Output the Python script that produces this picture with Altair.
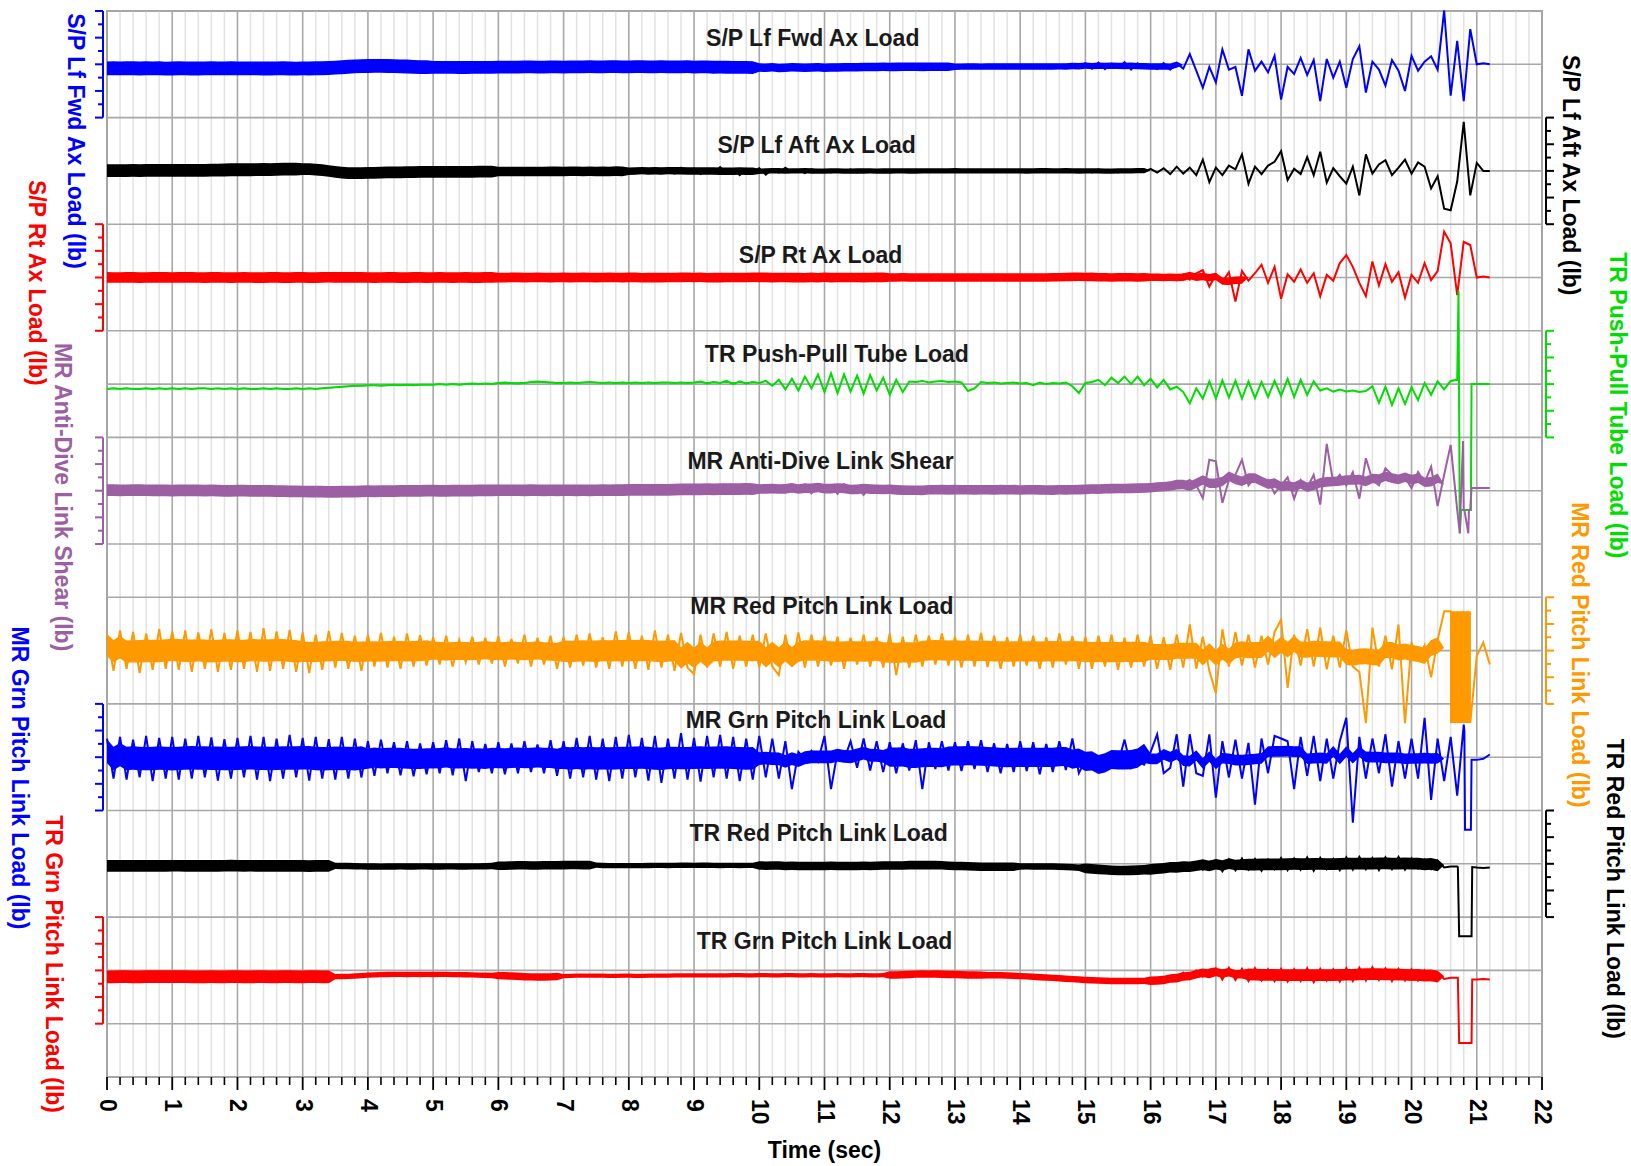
import altair as alt
import pandas as pd

# ---------------- data (values in hundredths of one grid division) ----------------
series_names = ["S/P Lf Fwd Ax Load", "S/P Lf Aft Ax Load", "S/P Rt Ax Load",
                "TR Push-Pull Tube Load", "MR Anti-Dive Link Shear",
                "MR Red Pitch Link Load", "MR Grn Pitch Link Load",
                "TR Red Pitch Link Load", "TR Grn Pitch Link Load"]
axis_titles = [n + " (lb)" for n in series_names]
colors = ["#0000FF", "#000000", "#FF0000", "#00DD00", "#9C5FA3",
          "#FF9900", "#0000FF", "#000000", "#FF0000"]
line_widths = [2.0, 2.0, 2.0, 2.6, 2.0, 2.0, 2.0, 2.0, 2.0]
baselines = [19, 17, 15, 13, 11, 8, 6, 4, 2]
sides = ["left", "right", "left", "right", "left", "right", "left", "right", "left"]

time_step = 0.1
n_samples = 213

lf_fwd = [
    -8, -6, -9, -7, -8, -6, -9, -8, -7, -8,
    -7, -9, -8, -6, -8, -9, -7, -8, -6, -8,
    -8, -7, -9, -8, -6, -8, -9, -7, -8, -7,
    -8, -9, -7, -8, -6, -7, -5, -4, -3, -3,
    -2, -3, -4, -2, -3, -5, -4, -6, -5, -6,
    -6, -5, -7, -6, -5, -6, -7, -5, -6, -6,
    -5, -6, -4, -5, -6, -5, -4, -6, -5, -5,
    -5, -4, -6, -5, -4, -5, -3, -6, -5, -4,
    -4, -6, -3, -5, -4, -7, -3, -5, -6, -4,
    -5, -3, -8, -2, -6, -9, -3, -5, -10, -2,
    -6, -12, -2, -8, -4, -10, -3, -7, -5, -9,
    -3, -6, -8, -4, -5, -7, -3, -6, -5, -4,
    -5, -4, -6, -5, -3, -5, -4, -6, -5, -4,
    -4, -5, -3, -5, -4, -4, -5, -3, -4, -5,
    -4, -3, -5, -4, -3, -5, -4, -3, -4, -5,
    2, -8, 3, -9, 1, -7, 4, -10, 2, -6,
    -3, -9, 2, -10, 2, -8, 19, -12, -44, -5,
    -34, 28, -10, -5, -59, 28, -12, 5, -15, 16,
    -66, -5, -18, 12, -20, 8, -69, 10, -25, 5,
    -44, 10, 34, -53, 5, -10, -40, 8, -12, -50,
    16, -12, 5, 15, -10, 101, -59, 44, -69, 66,
    0, 2, 0]

lf_aft = [
    0, 1, 0, 1, 0, 2, 1, 0, 1, 2,
    1, 0, 1, 2, 1, 0, 2, 1, 3, 2,
    2, 3, 2, 1, 3, 4, 3, 2, 4, 3,
    5, 4, 3, 1, -1, -3, -5, -6, -5, -4,
    -3, -2, -3, -4, -3, -2, -3, -2, -1, -2,
    -2, -1, -2, -3, -2, -1, -2, -1, -2, -1,
    -1, -2, 0, -1, -2, 0, -1, -2, -1, 0,
    -1, 0, -2, 0, -1, -2, 1, -3, 0, -1,
    2, -4, 3, -2, 5, -4, 3, -5, 6, -3,
    4, -6, 2, -4, 7, -5, 3, -8, 4, -2,
    5, -7, 3, -3, 6, -2, 1, -4, 3, -1,
    2, -3, 1, -2, 3, -3, 2, -2, 1, -1,
    1, -2, 2, -1, 1, -2, 1, -1, 2, -1,
    1, -1, 2, -2, 1, -1, 2, -1, 1, -2,
    2, -1, 1, -2, 3, -1, 2, -2, 1, -1,
    2, -3, 3, -2, 1, -3, 2, -1, 3, -2,
    4, -3, 5, -6, 8, -5, 6, -8, 21, -21,
    6, -8, 10, 3, 31, -24, 8, -6, 10, 17,
    37, -17, 4, -6, 26, -8, 36, -22, 5, -10,
    -24, 8, -46, 31, -5, 12, 20, -8, 6, 21,
    -5, 16, 8, -33, -10, -71, -74, -20, 92, -46,
    15, 0, 0]

rt_ax = [
    0, 1, 0, -1, 0, 1, 0, -1, 1, 0,
    0, 1, -1, 0, 1, 0, -1, 0, 1, 0,
    0, -1, 0, 1, 0, -1, 0, 1, 0, -1,
    0, 1, 0, -1, 0, 2, 1, 0, -1, 0,
    0, 1, 0, -1, 0, 1, 0, -1, 0, 1,
    0, -1, 1, 0, -1, 0, 1, 0, -1, 0,
    1, 0, -1, 0, 1, 0, -1, 1, 0, -1,
    0, 1, 0, -1, 1, 0, -1, 0, 1, 0,
    0, -1, 1, 0, -2, 1, 0, -1, 2, 0,
    -1, 2, -2, 1, -3, 2, -1, 3, -2, 1,
    -3, 4, -2, 3, -4, 2, -3, 3, -2, 1,
    0, -1, 1, 0, -1, 1, 0, -1, 0, 1,
    0, 1, -1, 0, 1, 0, -1, 1, 0, -1,
    0, 1, 0, -1, 1, 0, -1, 0, 1, 0,
    -1, 0, 1, 0, -1, 1, 0, 2, 1, 3,
    0, 2, -2, 3, -2, 2, -3, 4, -2, 3,
    -3, 5, -4, 3, -5, 6, -4, 8, 14, -17,
    5, -8, 10, -45, 12, -6, 8, 24, -10, 20,
    -40, 6, -8, 15, -10, 8, -35, 5, -6, 27,
    42, 20, -10, -35, 30, -15, 25, -8, 10, -38,
    5, -10, 27, -5, 12, 86, 64, -33, 67, 61,
    0, 2, 0]

tr_pp = [
    -9, -8, -9, -8, -9, -9, -8, -9, -8, -9,
    -8, -9, -8, -9, -8, -8, -9, -8, -9, -8,
    -9, -8, -9, -9, -8, -9, -8, -9, -9, -8,
    -9, -8, -9, -8, -7, -6, -5, -4, -3, -3,
    -2, -2, -3, -2, -1, -2, -1, -2, -1, -1,
    -1, 0, -1, 0, -1, 0, 1, 0, 1, 0,
    2, 3, 2, 1, 2, 4, 5, 4, 3, 2,
    2, 3, 2, 3, 4, 3, 2, 3, 2, 3,
    2, 3, 2, 3, 2, 3, 3, 2, 3, 2,
    3, 5, 1, 4, 2, 6, 0, 5, 1, 4,
    2, 6, -3, 8, -10, 10, -12, 14, -8, 18,
    -15, 20, -17, 18, -14, 16, -18, 17, -12, 12,
    -20, 8, -15, 5, 4, 6, 3, 5, 6, 4,
    5, 3, -13, -8, 4, 2, 3, 1, 2, 3,
    1, 2, -2, 3, 0, 2, 1, 3, -4, -17,
    2, 4, 8, -2, 12, 2, 14, 0, 14, -2,
    10, -6, 8, -10, -5, -15, -36, -8, -27, 5,
    -27, 7, -25, 6, -27, 5, -26, 4, -24, 6,
    -22, 10, -24, 8, -20, 5, -12, -8, -14, -10,
    -14, -12, -15, -13, -4, -35, -5, -39, -8, -37,
    -6, -30, 2, -20, 5, -10, 6, 8, -236, -236,
    0, 0, 0]

mr_ad = [
    1, 0, 2, 1, 0, 1, 2, 0, 1, 0,
    0, 1, 0, 2, 1, 0, -1, 0, 1, 0,
    -1, 0, 1, -1, 0, -2, -1, 0, -1, -2,
    -2, -1, -3, -2, -1, -2, -3, -1, -2, -1,
    -1, 0, -1, -2, 0, -1, 0, 1, 0, -1,
    0, 1, 0, -1, 0, 1, 0, 1, 0, 1,
    1, 0, 2, 1, 0, 1, 0, 2, 1, 0,
    1, 0, 1, 2, 0, 1, 0, 1, 2, 1,
    2, 1, 3, 0, 2, 1, 3, 1, 2, 4,
    3, 1, 5, 0, 4, 2, 6, 1, 4, 2,
    5, 0, 8, 2, 6, -2, 7, 12, -5, 10,
    4, 8, -6, 12, 2, 6, -8, 9, 3, 6,
    0, 3, -5, 2, 1, 4, 0, 2, 1, 3,
    2, 1, 3, 0, 2, 1, 4, 0, 2, 3,
    1, 2, 0, 3, 1, 2, 0, 1, 3, 2,
    2, 4, 3, 5, 2, 6, 3, 5, 4, 6,
    5, 8, 6, 12, 8, 14, 20, 10, -14, 58,
    55, -23, 20, 30, 58, 10, 25, 12, 20, -5,
    10, 25, -15, 20, 5, 30, -26, 88, 15, 30,
    10, 35, -15, 61, 20, 10, 42, 30, 15, 25,
    5, 35, 15, 45, -29, 30, 86, -36, -36, -36,
    5, 5, 5]

mr_red = [
    30, -38, 38, -34, 35, -42, 32, -36, 40, -34,
    36, -36, 38, -40, 34, -34, 40, -40, 33, -36,
    38, -34, 35, -40, 42, -38, 36, -34, 39, -40,
    34, -42, 30, -36, 37, -32, 33, -34, 28, -38,
    30, -30, 33, -32, 26, -34, 32, -30, 29, -28,
    25, -26, 28, -30, 20, -22, 26, -26, 24, -24,
    27, -30, 22, -24, 30, -30, 24, -26, 28, -34,
    26, -32, 30, -28, 32, -32, 25, -34, 36, -30,
    35, -34, 28, -36, 38, -32, 30, -38, 33, -32,
    -44, 30, -32, 32, -30, 35, -34, 28, -30, 30,
    -32, 32, -30, -46, 30, -30, 34, -32, 30, -30,
    28, -28, 26, -34, 24, -26, 30, -30, 25, -32,
    32, -46, 26, -32, 30, -30, 28, -26, 32, -28,
    26, -32, 30, -30, 33, -31, 28, -34, 25, -30,
    30, -28, 28, -34, 25, -32, 32, -26, 27, -34,
    26, -34, 28, -30, 30, -36, 24, -32, 30, -30,
    28, -34, 25, -36, 30, -32, 49, -34, 26, -38,
    -80, 40, -30, 35, -28, 30, -32, 28, -26, 35,
    58, -70, 30, -28, 40, -30, 43, -35, 28, -32,
    38, -30, -40, -136, 43, -30, 28, -35, 49, -136,
    15, -17, 10, -50, 20, 74, 74, -136, 74, -136,
    -10, 15, -26]

mr_grn = [
    35, -40, 38, -42, 33, -38, 40, -45, 36, -40,
    38, -42, 35, -40, 40, -38, 37, -44, 34, -40,
    36, -38, 40, -42, 38, -45, 35, -40, 42, -38,
    36, -44, 38, -40, 34, -42, 38, -40, 35, -38,
    30, -35, 33, -30, 28, -34, 30, -36, 26, -32,
    28, -30, 32, -34, 35, -45, 30, -28, 25, -30,
    28, -32, 26, -30, 30, -28, 24, -30, 32, -35,
    30, -40, 36, -38, 40, -42, 35, -45, 38, -40,
    42, -38, 36, -44, 40, -48, 35, -40, 45, -42,
    36, -46, 40, -38, 42, -40, 38, -45, 35, -42,
    40, -38, 35, -40, 30, -60, 10, -5, 12, -8,
    40, -60, 10, -5, 30, -20, 35, -25, 30, -28,
    28, -30, 26, -25, 32, -60, 28, -22, 30, -25,
    28, -26, 30, -22, 32, -28, 26, -30, 25, -28,
    30, -26, 28, -32, 25, -28, 30, -24, 35, -30,
    -5, -15, -8, -18, -6, -12, 33, -20, -8, -14,
    10, 43, -30, -20, 43, -55, 43, -30, -35, 43,
    -76, 30, -38, 33, -40, 27, -89, 35, -30, 40,
    35, 30, -60, 38, -35, 40, -45, 35, -40, 30,
    74, -123, 38, -40, 35, -30, 43, -55, 30, -40,
    35, -40, 74, -80, 35, -45, 38, -72, 61, -136,
    -5, -3, 5]

tr_red = [
    -4, -3, -5, -4, -3, -4, -5, -3, -4, -4,
    -3, -4, -4, -3, -5, -4, -3, -4, -4, -3,
    -4, -3, -4, -5, -3, -4, -4, -3, -5, -4,
    -3, -4, -4, -5, -3, -4, -3, -4, -5, -6,
    -5, -6, -4, -5, -6, -5, -4, -5, -6, -5,
    -4, -5, -6, -5, -4, -5, -6, -5, -4, -5,
    -3, -2, -3, -4, -2, -3, -2, -4, -3, -2,
    -2, -3, -1, -3, -2, -4, -2, -3, -5, -4,
    -3, -4, -2, -3, -4, -3, -2, -4, -3, -2,
    -2, -3, -4, -2, -3, -4, -3, -2, -4, -3,
    -2, -4, -3, -5, -2, -4, -6, -3, -5, -4,
    -3, -5, -4, -2, -6, -4, -3, -5, -2, -4,
    -3, -2, -4, -3, -2, -1, -3, -2, -4, -3,
    -4, -6, -5, -4, -6, -5, -7, -6, -5, -4,
    -5, -6, -4, -5, -6, -4, -5, -6, -7, -8,
    -9, -10, -12, -11, -13, -12, -14, -13, -12, -10,
    -10, -8, -9, -7, -6, 1, -12, 2, -11, 4,
    6, -14, 8, -12, 10, -11, 9, -13, 8, -10,
    11, -12, 10, -11, 12, -13, 11, -10, 9, -12,
    12, -11, 13, -10, 11, -12, 12, -10, 13, -11,
    10, -9, 8, -10, 6, -7, -5, -5, -136, -136,
    -7, -8, -7]

tr_grn = [
    -12, -11, -13, -12, -11, -12, -13, -12, -11, -12,
    -11, -12, -13, -12, -11, -13, -12, -11, -12, -13,
    -12, -11, -12, -13, -12, -11, -12, -13, -12, -11,
    -12, -13, -12, -11, -12, -13, -12, -11, -10, -9,
    -8, -8, -7, -8, -7, -8, -7, -8, -8, -7,
    -8, -7, -8, -7, -8, -9, -8, -9, -10, -9,
    -10, -11, -10, -11, -12, -13, -14, -13, -12, -11,
    -10, -9, -10, -9, -10, -11, -10, -9, -10, -11,
    -10, -9, -10, -11, -10, -9, -10, -9, -10, -9,
    -10, -9, -10, -9, -8, -9, -10, -9, -8, -9,
    -10, -9, -8, -9, -10, -9, -8, -9, -10, -9,
    -9, -10, -9, -8, -9, -10, -9, -8, -9, -10,
    -9, -8, -7, -8, -6, -7, -6, -7, -8, -7,
    -8, -9, -8, -10, -9, -8, -9, -10, -9, -10,
    -11, -12, -13, -12, -14, -15, -14, -16, -17, -18,
    -18, -19, -20, -19, -20, -21, -20, -19, -20, -20,
    -20, -19, -18, -16, -14, -4, -16, 0, -12, 2,
    4, -17, 5, -18, 3, -20, 4, -19, 2, -20,
    3, -21, 2, -20, 4, -22, 3, -19, 2, -21,
    4, -20, 5, -19, 6, -18, 4, -20, 3, -19,
    2, -19, 0, -18, -4, -16, -14, -14, -136, -136,
    -17, -16, -17]

# extra samples at sharp edges: (time s, value)
extra_points = [
    [],
    [],
    [],
    [(20.72, 175), (20.74, -280), (20.76, -236), (20.91, -236), (20.92, 0)],
    [(20.74, -80), (20.75, -36), (20.79, 93), (20.81, -36), (20.87, -80), (20.88, -36), (20.92, 5)],
    [],
    [(20.81, 50), (20.82, -136), (20.91, -136), (20.92, -5)],
    [(20.71, -6), (20.73, -136), (20.92, -136), (20.93, -6)],
    [(20.71, -14), (20.73, -136), (20.92, -136), (20.93, -17)],
]

# half-width of the dense high-frequency band, one value per 0.5 s
band_lf_fwd = [13, 13, 13, 13, 13, 13, 13, 13, 13, 13, 12, 12, 12, 12, 12, 12, 12, 12, 12, 12,
               8, 8, 8, 8, 8, 8, 6, 6, 6, 6, 6, 6, 6, 0, 0, 0, 0, 0, 0, 0, 0, 0, 0]
band_lf_aft = [12, 12, 12, 12, 12, 12, 11, 11, 11, 11, 11, 11, 9, 9, 9, 9, 7, 7, 7, 7,
               5, 5, 5, 5, 5, 5, 5, 5, 5, 5, 5, 5, 0, 0, 0, 0, 0, 0, 0, 0, 0, 0, 0]
band_rt_ax = [10, 10, 10, 10, 10, 10, 10, 10, 10, 10, 10, 10, 9, 9, 9, 9, 9, 9, 9, 9,
              9, 9, 9, 9, 8, 8, 8, 8, 8, 8, 8, 8, 7, 7, 7, 0, 0, 0, 0, 0, 0, 0, 0]
band_tr_pp = [1, 1, 1, 1, 1, 1, 1, 1, 1, 1, 1, 1, 1, 1, 1, 1, 1, 1, 1, 1,
              0, 0, 0, 0, 0, 0, 0, 0, 0, 0, 0, 0, 0, 0, 0, 0, 0, 0, 0, 0, 0, 0, 0]
band_mr_ad = [11, 11, 11, 11, 11, 11, 11, 11, 11, 11, 11, 11, 11, 11, 11, 11, 11, 11, 11, 11,
              9, 9, 9, 9, 9, 9, 9, 9, 9, 9, 9, 9, 9, 9, 9, 9, 9, 9, 9, 9, 9, 0, 0]
band_mr_red = [21, 21, 21, 21, 21, 21, 19, 19, 19, 19, 17, 17, 17, 17, 20, 20, 20, 20, 19, 19,
               19, 19, 19, 19, 19, 19, 19, 19, 19, 19, 19, 19, 15, 15, 15, 15, 15, 15, 15, 15, 15, 0, 0]
band_mr_grn = [22, 22, 22, 22, 22, 22, 22, 22, 19, 19, 19, 19, 19, 19, 21, 21, 21, 21, 21, 21,
               12, 12, 12, 12, 18, 18, 18, 18, 18, 18, 18, 18, 10, 10, 10, 10, 10, 10, 10, 10, 10, 0, 0]
band_tr_red = [11, 11, 11, 11, 11, 11, 11, 6, 6, 6, 6, 6, 8, 8, 8, 5, 5, 5, 5, 5,
               8, 8, 8, 8, 8, 8, 8, 8, 6, 6, 9, 9, 10, 10, 10, 11, 11, 11, 11, 11, 11, 0, 0]
band_tr_grn = [12, 12, 12, 12, 12, 12, 12, 5, 5, 5, 5, 5, 7, 7, 4, 4, 4, 4, 4, 4,
               4, 4, 4, 4, 7, 7, 7, 6, 6, 6, 6, 6, 8, 8, 8, 11, 11, 11, 11, 11, 11, 0, 0]

# saturated block of the MR Red pitch link trace: t0, t1, low, high
orange_block = [20.59, 20.91, -136, 74]

x_ticks = list(range(0, 23))
y_grid = list(range(0, 21))
minor_ticks = [round(i * 0.2, 1) for i in range(111) if i % 5 != 0]

# layout (positions in pixels / chart units, kept apart from the data)
W, H = 1435, 1066
title_pos = [(10.82, 19.48), (10.88, 17.47), (10.94, 15.40), (11.19, 13.55), (10.94, 11.54),
             (10.96, 8.81), (10.87, 6.68), (10.91, 4.56), (11.00, 2.53)]
axis_title_pos = [(-32, 17.56), (W + 28, 16.92), (-71, 14.90), (W + 75, 12.60), (-45, 10.88),
                  (W + 37, 7.92), (-88, 5.61), (W + 72, 3.53), (-54, 2.12)]

FONT = "Liberation Sans"
FS = 23

all_vals = [lf_fwd, lf_aft, rt_ax, tr_pp, mr_ad, mr_red, mr_grn, tr_red, tr_grn]
all_bands = [band_lf_fwd, band_lf_aft, band_rt_ax, band_tr_pp, band_mr_ad,
             band_mr_red, band_mr_grn, band_tr_red, band_tr_grn]

t_grid = [round(i * time_step, 2) for i in range(n_samples)]

rows = []
for name, base, vals, band, extra in zip(series_names, baselines, all_vals, all_bands, extra_points):
    pts = sorted(list(zip(t_grid, vals)) + extra, key=lambda p: p[0])
    ts = [p[0] for p in pts]
    vs = pd.Series([p[1] for p in pts], dtype=float)
    # centre of the dense band: running mean of the read samples (spikes limited)
    centre = vs.clip(-45, 45).rolling(6, center=True, min_periods=1).mean()
    for k, (t, v, c) in enumerate(zip(ts, vs, centre)):
        hw = band[min(int(t * 2 + 1e-9), len(band) - 1)] / 100.0
        yc = base + c / 100.0
        rows.append({"series": name, "t": t, "y": base + v / 100.0,
                     "lo": yc - hw, "hi": yc + hw, "k": k})
df = pd.DataFrame(rows)

color_scale = alt.Scale(domain=series_names, range=colors)
width_scale = alt.Scale(domain=series_names, range=line_widths)
xs = alt.Scale(domain=[0, 22], nice=False, zero=False)
ys = alt.Scale(domain=[0, 20], nice=False, zero=False)

minor_df = pd.DataFrame({"x": minor_ticks})
major_df = pd.DataFrame({"x": x_ticks, "lab": [str(v) for v in x_ticks]})
hgrid_df = pd.DataFrame({"y": y_grid})

grid_minor = alt.Chart(minor_df).mark_rule(color="#E2E2E2", strokeWidth=1.5).encode(
    x=alt.X("x:Q", scale=xs, axis=None), y=alt.value(0), y2=alt.value(H))
grid_major = alt.Chart(major_df).mark_rule(color="#A8A8A8", strokeWidth=1.6).encode(
    x=alt.X("x:Q", scale=xs, axis=None), y=alt.value(0), y2=alt.value(H))
grid_h = alt.Chart(hgrid_df).mark_rule(color="#A8A8A8", strokeWidth=1.6).encode(
    y=alt.Y("y:Q", scale=ys, axis=None), x=alt.value(0), x2=alt.value(W))

areas = alt.Chart(df).mark_area(opacity=1).encode(
    x=alt.X("t:Q", scale=xs, axis=None),
    y=alt.Y("lo:Q", scale=ys, axis=None, stack=None), y2="hi:Q",
    color=alt.Color("series:N", scale=color_scale, legend=None))
lines = alt.Chart(df).mark_line().encode(
    x=alt.X("t:Q", scale=xs, axis=None),
    y=alt.Y("y:Q", scale=ys, axis=None),
    color=alt.Color("series:N", scale=color_scale, legend=None),
    size=alt.Size("series:N", scale=width_scale, legend=None),
    order="k:Q")

blk = pd.DataFrame({"t0": [orange_block[0]], "t1": [orange_block[1]],
                    "y0": [baselines[5] + orange_block[2] / 100.0],
                    "y1": [baselines[5] + orange_block[3] / 100.0]})
block = alt.Chart(blk).mark_rect(color=colors[5]).encode(
    x=alt.X("t0:Q", scale=xs, axis=None), x2="t1:Q",
    y=alt.Y("y0:Q", scale=ys, axis=None), y2="y1:Q")

minor_x_ticks = alt.Chart(minor_df).mark_rule(color="#000000", strokeWidth=1.6).encode(
    x=alt.X("x:Q", scale=xs, axis=None), y=alt.value(H), y2=alt.value(H + 8))
major_x_ticks = alt.Chart(major_df).mark_rule(color="#000000", strokeWidth=1.8).encode(
    x=alt.X("x:Q", scale=xs, axis=None), y=alt.value(H), y2=alt.value(H + 13))
x_labels = alt.Chart(major_df).mark_text(font=FONT, fontSize=FS, fontWeight="bold", color="#000000",
                                         angle=90, align="left", baseline="middle").encode(
    x=alt.X("x:Q", scale=xs, axis=None), y=alt.value(H + 22), text="lab:N")
x_title = alt.Chart(pd.DataFrame({"lab": ["Time (sec)"]})).mark_text(
    font=FONT, fontSize=FS, fontWeight="bold", color="#000000", align="center", baseline="middle").encode(
    x=alt.value(W / 2), y=alt.value(1140), text="lab:N")

layers = [grid_minor, grid_major, grid_h, areas, lines, block,
          minor_x_ticks, major_x_ticks, x_labels, x_title]

# panel brackets (small per-trace axes)
for name, base, col, side in zip(series_names, baselines, colors, sides):
    x0 = -4 if side == "left" else W + 4
    sgn = -1 if side == "left" else 1
    bdf = pd.DataFrame({"lo": [base - 1], "hi": [base + 1]})
    layers.append(alt.Chart(bdf).mark_rule(color=col, strokeWidth=2).encode(
        x=alt.value(x0), y=alt.Y("lo:Q", scale=ys, axis=None), y2="hi:Q"))
    tick_vals = [base - 1 + j * 0.25 for j in range(9)]
    tdf = pd.DataFrame({"v": tick_vals, "major": [j % 2 == 0 for j in range(9)]})
    layers.append(alt.Chart(tdf[tdf.major]).mark_rule(color=col, strokeWidth=2).encode(
        x=alt.value(x0), x2=alt.value(x0 + sgn * 8), y=alt.Y("v:Q", scale=ys, axis=None)))
    layers.append(alt.Chart(tdf[~tdf.major]).mark_rule(color=col, strokeWidth=2).encode(
        x=alt.value(x0), x2=alt.value(x0 + sgn * 5), y=alt.Y("v:Q", scale=ys, axis=None)))

# trace titles
tdf = pd.DataFrame({"label": series_names,
                    "tx": [p[0] for p in title_pos], "ty": [p[1] for p in title_pos]})
layers.append(alt.Chart(tdf).mark_text(font=FONT, fontSize=FS, fontWeight="bold",
                                       color="#1A1A1A", align="center", baseline="middle").encode(
    x=alt.X("tx:Q", scale=xs, axis=None), y=alt.Y("ty:Q", scale=ys, axis=None), text="label:N"))

# rotated axis titles
for label, col, (px, vy) in zip(axis_titles, colors, axis_title_pos):
    adf = pd.DataFrame({"label": [label], "vy": [vy]})
    layers.append(alt.Chart(adf).mark_text(font=FONT, fontSize=FS, fontWeight="bold", color=col,
                                           angle=90, align="center", baseline="middle").encode(
        x=alt.value(px), y=alt.Y("vy:Q", scale=ys, axis=None), text="label:N"))

chart = alt.layer(*layers).properties(
    width=W, height=H,
    padding={"left": 107, "top": 11, "right": 89, "bottom": 89},
    autosize=alt.AutoSizeParams(type="none"),
    background="#FFFFFF",
).configure_view(stroke="#A0A0A0", strokeWidth=2)

chart.save("out.html", embed_options={"renderer": "svg", "actions": False})
